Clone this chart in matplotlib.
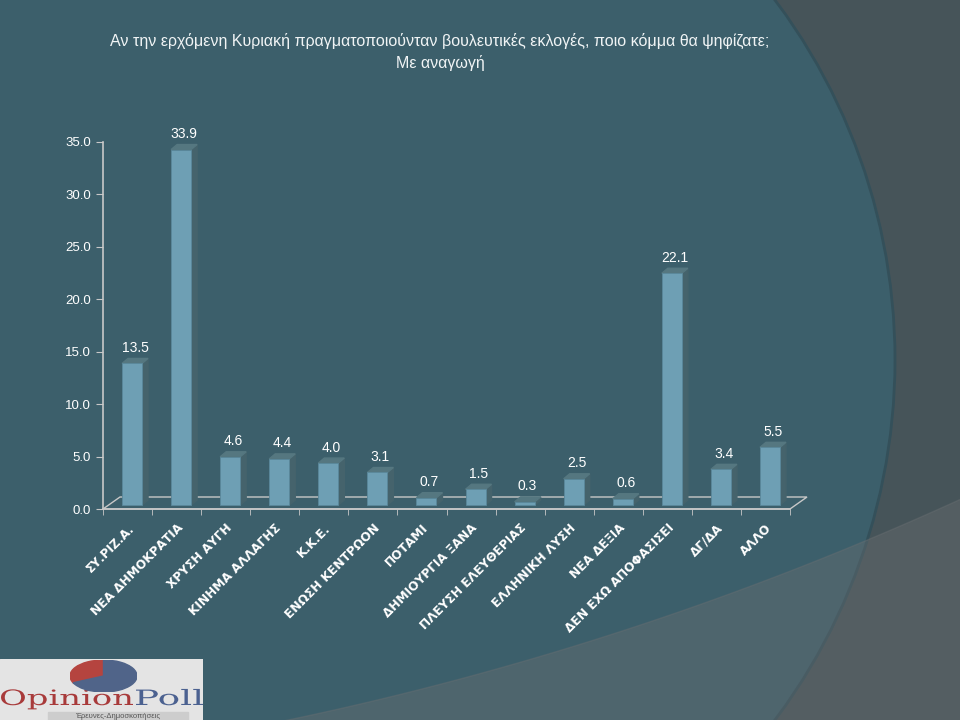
import numpy as np
import matplotlib
matplotlib.use("Agg")
import matplotlib.pyplot as plt
from matplotlib.patches import Polygon, Circle, Rectangle, Wedge, PathPatch
from matplotlib.textpath import TextPath
from matplotlib.font_manager import FontProperties
from matplotlib.transforms import Affine2D
from matplotlib.ticker import FixedLocator, FormatStrFormatter

plt.rcParams['font.family'] = ['Liberation Sans', 'DejaVu Sans']

# data
parties = ['ΣΥ.ΡΙΖ.Α.', 'ΝΕΑ ΔΗΜΟΚΡΑΤΙΑ', 'ΧΡΥΣΗ ΑΥΓΗ', 'ΚΙΝΗΜΑ ΑΛΛΑΓΗΣ', 'Κ.Κ.Ε.',
           'ΕΝΩΣΗ ΚΕΝΤΡΩΟΝ', 'ΠΟΤΑΜΙ', 'ΔΗΜΙΟΥΡΓΙΑ ΞΑΝΑ', 'ΠΛΕΥΣΗ ΕΛΕΥΘΕΡΙΑΣ',
           'ΕΛΛΗΝΙΚΗ ΛΥΣΗ', 'ΝΕΑ ΔΕΞΙΑ', 'ΔΕΝ ΕΧΩ ΑΠΟΦΑΣΙΣΕΙ', 'ΔΓ/ΔΑ', 'ΑΛΛΟ']
values = [13.5, 33.9, 4.6, 4.4, 4.0, 3.1, 0.7, 1.5, 0.3, 2.5, 0.6, 22.1, 3.4, 5.5]
yticks = [0, 5, 10, 15, 20, 25, 30, 35]
title = ('Αν την ερχόμενη Κυριακή πραγματοποιούνταν βουλευτικές εκλογές, ποιο κόμμα θα ψηφίζατε;\n'
         'Με αναγωγή')

W, H = 960, 720
fig = plt.figure(figsize=(W / 100, H / 100), dpi=100)

# slide background (pixel coordinates)
bg = fig.add_axes([0, 0, 1, 1], zorder=-10)
bg.set_xlim(0, W)
bg.set_ylim(H, 0)
bg.axis('off')
bg.add_patch(Rectangle((0, 0), W, H, color='#465459'))
bg.add_patch(Circle((295, 360), 600, color='#3c5f6b'))
bg.add_patch(Circle((295, 360), 600, fill=False, edgecolor='#34505a', lw=2))
# lower band: outside a very large circle
t = np.linspace(0, 2 * np.pi, 4000)
cx, cy, r = -368, -2413, 3201
arc_x = cx + r * np.cos(t)
arc_y = cy + r * np.sin(t)
keep = (arc_x > -50) & (arc_x < W + 50) & (arc_y > 0)
pts = sorted(zip(arc_x[keep], arc_y[keep]))
poly = pts + [(W + 50, H + 50), (-50, H + 50)]
bg.add_patch(Polygon(poly, closed=True, color='#6a6f72', alpha=0.4))

# main chart
left, right = 103 / W, 790 / W
bottom, top = 1 - 509 / H, 1 - 142 / H
ax = fig.add_axes([left, bottom, right - left, top - bottom])
ax.set_facecolor('none')
n = len(parties)
ax.set_xlim(-0.5, n - 0.5)
ax.set_ylim(0, 35)

ppx = (790 - 103) / n
ppy = (509 - 142) / 35.0
sx, by = 4.5 / ppx, 4 / ppy
bw = 20 / ppx
dx, dy = 6 / ppx, 5 / ppy
fdx, fdy = 17 / ppx, 12 / ppy

x = np.arange(n)
edge = '#c8c8c8'

# floor
ax.add_patch(Polygon([(-0.5, 0), (n - 0.5, 0), (n - 0.5 + fdx, fdy), (-0.5 + fdx, fdy)],
                     closed=True, fill=False, edgecolor=edge, lw=1, clip_on=False, zorder=1))

ax.bar(x + sx, values, width=bw, bottom=by, color='#6e9fb4', edgecolor='#5a889b',
       lw=0.6, zorder=3)
for xi, v in zip(x, values):
    l, rr = xi + sx - bw / 2, xi + sx + bw / 2
    ax.add_patch(Polygon([(rr, by), (rr + dx, by + dy), (rr + dx, by + v + dy), (rr, by + v)],
                         closed=True, color='#45636c', zorder=2, clip_on=False))
    ax.add_patch(Polygon([(l, by + v), (l + dx, by + v + dy), (rr + dx, by + v + dy), (rr, by + v)],
                         closed=True, color='#557780', zorder=2, clip_on=False))
    ax.annotate(f'{v:.1f}', (xi + sx + dx / 2, by + v + dy), xytext=(0, 2.5),
                textcoords='offset points', ha='center', va='bottom',
                color='white', fontsize=10, clip_on=False)

for s in ['top', 'right']:
    ax.spines[s].set_visible(False)
for s in ['left', 'bottom']:
    ax.spines[s].set_color(edge)
    ax.spines[s].set_linewidth(1.2)

ax.yaxis.set_major_locator(FixedLocator(yticks))
ax.yaxis.set_major_formatter(FormatStrFormatter('%.1f'))
ax.tick_params(axis='y', colors=edge, length=5, labelcolor='white', labelsize=9.5)

ax.set_xticks(np.arange(-0.5, n, 1), minor=True)
ax.tick_params(axis='x', which='major', length=0, pad=9)
ax.tick_params(axis='x', which='minor', length=4, color=edge)
ax.set_xticks(x)
ax.set_xticklabels(parties, rotation=45, ha='right', rotation_mode='anchor',
                   family='DejaVu Sans', fontweight='bold', fontsize=8.7, color='white')

fig.text(440 / W, 1 - 52 / H, title, ha='center', va='center', color='#f0f4f5',
         fontsize=11.5, linespacing=1.4)

# logo
logo = fig.add_axes([0, 0, 203 / W, 61 / H])
logo.set_xlim(0, 203)
logo.set_ylim(0, 61)
logo.axis('off')
logo.add_patch(Rectangle((0, 0), 203, 61, color='#e4e4e4'))
logo.add_patch(Rectangle((48, 0), 140, 8, color='#cdcdcd'))
logo.text(118, 4, 'Έρευνες-Δημοσκοπήσεις', ha='center', va='center', fontsize=5.5,
          color='#555555')


def stretched(txt, x0, x1, base, cap, color):
    fp = FontProperties(family='DejaVu Serif')
    tp = TextPath((0, 0), txt, size=10, prop=fp)
    ext = tp.get_extents()
    capref = TextPath((0, 0), 'O', size=10, prop=fp).get_extents().height
    tr = Affine2D().translate(-ext.x0, 0).scale((x1 - x0) / ext.width, cap / capref)
    tr = tr.translate(x0, base)
    logo.add_patch(PathPatch(tr.transform_path(tp), color=color, lw=0))


stretched('Opinion', 1, 133, 15, 16, '#a83a3a')
stretched('Poll', 136, 203, 15, 16, '#4b6190')

pie = fig.add_axes([70 / W, 1 - 692 / H, 67 / W, 32 / H])
pie.set_xlim(-1, 1)
pie.set_ylim(-1, 1)
pie.axis('off')
pie.add_patch(Wedge((0, 0), 1, 90, 205, color='#b5443f'))
pie.add_patch(Wedge((0, 0), 1, 205, 450, color='#506489'))

fig.savefig('out.png', dpi=100)
